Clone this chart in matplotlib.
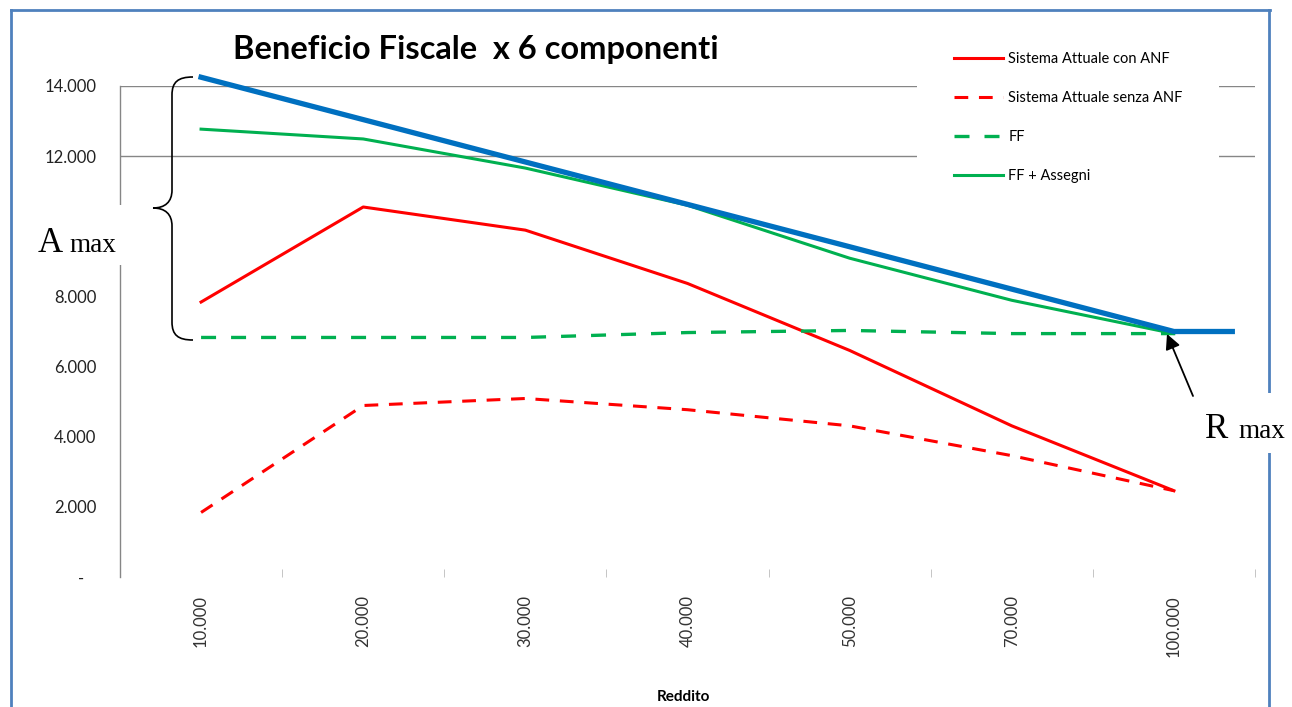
import matplotlib
matplotlib.use("Agg")
import matplotlib.pyplot as plt
import numpy as np
from matplotlib.lines import Line2D
from matplotlib.patches import Rectangle, PathPatch
from matplotlib.path import Path
from matplotlib.transforms import Affine2D

plt.rcParams['font.family'] = ['Lato', 'DejaVu Sans']

# --- dati ---
redditi = ["10.000", "20.000", "30.000", "40.000", "50.000", "70.000", "100.000"]
con_anf = [7840, 10550, 9890, 8370, 6460, 4310, 2460]
senza_anf = [1840, 4890, 5090, 4770, 4310, 3460, 2460]
ff = [6830, 6830, 6830, 6970, 7030, 6940, 6940]
ff_assegni = [12770, 12490, 11660, 10600, 9090, 7890, 6940]
# retta del massimo (disegnata sopra il grafico)
max_x = [0, 6, 6.36]
max_y = [14250, 7000, 7000]
y_ticks = [0, 2000, 4000, 6000, 8000, 12000, 14000]
y_labels = ["-   ", "2.000", "4.000", "6.000", "8.000", "12.000", "14.000"]

W, H = 1292, 707
fig = plt.figure(figsize=(W / 100, H / 100), dpi=100)
px = Affine2D().scale(1 / W, -1 / H).translate(0, 1) + fig.transFigure

ax = fig.add_axes([120 / W, 1 - 577 / H, (1255 - 120) / W, (577 - 86) / H])
x = np.arange(len(redditi))

red = "#FF0000"
green = "#00B050"
blue = "#0070C0"
grid_c = "#868686"

for g in [12000, 14000]:
    ax.axhline(g, color=grid_c, lw=1, zorder=1)

ax.plot(x, con_anf, color=red, lw=2.2, label="Sistema Attuale con ANF", zorder=3)
ax.plot(x, senza_anf, color=red, lw=2.2, ls=(0, (4.5, 3.5)),
        label="Sistema Attuale senza ANF", zorder=3)
ax.plot(x, ff, color=green, lw=2.4, ls=(0, (4.5, 4.5)), label="FF", zorder=3)
ax.plot(x, ff_assegni, color=green, lw=2.2, label="FF + Assegni", zorder=3)
ax.plot(max_x, max_y, color=blue, lw=3.8, clip_on=False, zorder=4)

ax.set_xlim(-0.5, 6.5)
ax.set_ylim(0, 14000)
ax.set_xticks(x)
ax.set_xticklabels(redditi, rotation=90, fontsize=12, color="#333333")
ax.set_xticks(np.arange(-0.5, 7, 1), minor=True)
ax.tick_params(axis="x", which="major", length=0, pad=13)
ax.tick_params(axis="x", which="minor", length=6, direction="in", color="#BBBBBB")
ax.set_yticks(y_ticks)
ax.set_yticklabels(y_labels, fontsize=12, color="#222222")
ax.tick_params(axis="y", length=0, pad=17)
for s in ["top", "right", "bottom"]:
    ax.spines[s].set_visible(False)
ax.spines["left"].set_color(grid_c)
ax.spines["left"].set_linewidth(1)

fig.text(683, 697, "Reddito", transform=px, ha="center", va="center",
         fontsize=11, fontweight="bold")

leg = ax.legend(loc="upper left", bbox_to_anchor=(910 / W, 1 - 8 / H),
                bbox_transform=fig.transFigure, fontsize=10.5, frameon=True,
                facecolor="white", edgecolor="none", framealpha=1, fancybox=False,
                handlelength=3.4, handletextpad=0.35, labelspacing=1.73, borderpad=2.5)

fig.text(476, 50, "Beneficio Fiscale  x 6 componenti", transform=px,
         ha="center", va="center", fontsize=23.5, fontweight="bold")

# cornice blu
border = "#4F81BD"
for xs, ys in [([11, 1270], [10, 10]), ([11, 11], [10, 707]),
               ([1269, 1269], [10, 393]), ([1269, 1269], [453, 707])]:
    fig.add_artist(Line2D(xs, ys, transform=px, color=border, lw=2))

# parentesi graffa
verts = [(193, 77), (178, 77), (172, 82), (172, 95),
         (172, 190),
         (172, 202), (165, 208), (153, 208),
         (165, 208), (172, 214), (172, 226),
         (172, 322),
         (172, 335), (178, 340), (193, 340)]
codes = [Path.MOVETO, Path.CURVE4, Path.CURVE4, Path.CURVE4,
         Path.LINETO,
         Path.CURVE4, Path.CURVE4, Path.CURVE4,
         Path.CURVE4, Path.CURVE4, Path.CURVE4,
         Path.LINETO,
         Path.CURVE4, Path.CURVE4, Path.CURVE4]
fig.add_artist(PathPatch(Path(verts, codes), transform=px, fill=False,
                         edgecolor="black", lw=1.2, zorder=5))

# A max
fig.add_artist(Rectangle((28, 205), 96, 60, transform=px, facecolor="white",
                         edgecolor="none", zorder=5))
fig.text(38, 252, "A", transform=px, fontsize=25, family="Liberation Serif",
         va="baseline", zorder=6)
fig.text(69, 252, "max", transform=px, fontsize=19.5, family="Liberation Serif",
         va="baseline", zorder=6)

# R max
fig.add_artist(Rectangle((1195, 393), 97, 60, transform=px, facecolor="white",
                         edgecolor="none", zorder=5))
fig.text(1205, 438, "R", transform=px, fontsize=25, family="Liberation Serif",
         va="baseline", zorder=6)
fig.text(1238, 438, "max", transform=px, fontsize=19.5, family="Liberation Serif",
         va="baseline", zorder=6)

ax.annotate("", xy=(1167, 334), xycoords=px, xytext=(1193, 396), textcoords=px,
            arrowprops=dict(arrowstyle="-|>,head_length=0.9,head_width=0.45",
                            color="black", lw=1.3, shrinkA=0, shrinkB=0))

fig.savefig("out.png", dpi=100)
